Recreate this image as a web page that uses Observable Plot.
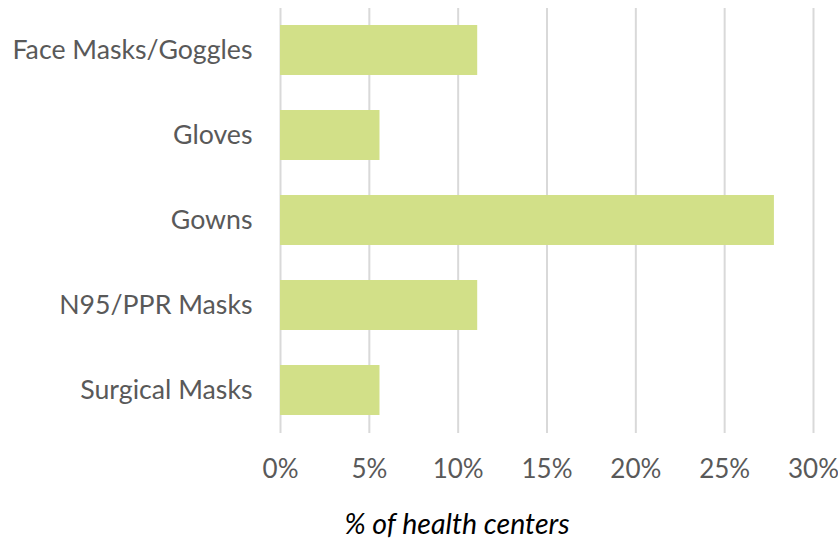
<!DOCTYPE html>
<html>
<head>
<meta charset="utf-8">
<script src="https://cdn.jsdelivr.net/npm/d3@7"></script>
<script src="https://cdn.jsdelivr.net/npm/@observablehq/plot@0.6"></script>
<style>
  body { margin: 0; background: #fff; }
  svg { font-family: Lato, "Open Sans", sans-serif; }
</style>
</head>
<body>
<div id="chart"></div>
<script>
const categories = ["Face Masks/Goggles", "Gloves", "Gowns", "N95/PPR Masks", "Surgical Masks"];
const values = [0.111, 0.056, 0.278, 0.111, 0.056];
const xTicks = [0, 0.05, 0.10, 0.15, 0.20, 0.25, 0.30];
const xTitle = "% of health centers";

const data = categories.map((c, i) => ({category: c, value: values[i]}));

const chart = Plot.plot({
  width: 838,
  height: 544,
  marginLeft: 280,
  marginRight: 25,
  marginTop: 8,
  marginBottom: 111,
  style: {fontSize: "26px", color: "#595959", background: "#fff"},
  x: {domain: [0, 0.30], ticks: xTicks, tickFormat: d3.format(".0%"), label: null},
  y: {domain: categories, paddingInner: 0.41, paddingOuter: 0.205, label: null},
  marks: [
    Plot.gridX(xTicks, {stroke: "#d9d9d9", strokeOpacity: 1, strokeWidth: 2}),
    Plot.barX(data, {x: "value", y: "category", fill: "#d2e088"}),
    Plot.axisX({ticks: xTicks, tickFormat: d3.format(".0%"), tickSize: 0, tickPadding: 26, label: null, fill: "#595959", fontSize: 26}),
    Plot.axisY({tickSize: 0, tickPadding: 28, label: null, fill: "#595959", fontSize: 26.7}),
    Plot.text([xTitle], {frameAnchor: "bottom", dy: 100, dx: -90, text: d => d, fontStyle: "italic", fill: "#000", fontSize: 28.5})
  ]
});
document.getElementById("chart").appendChild(chart);
</script>
</body>
</html>
